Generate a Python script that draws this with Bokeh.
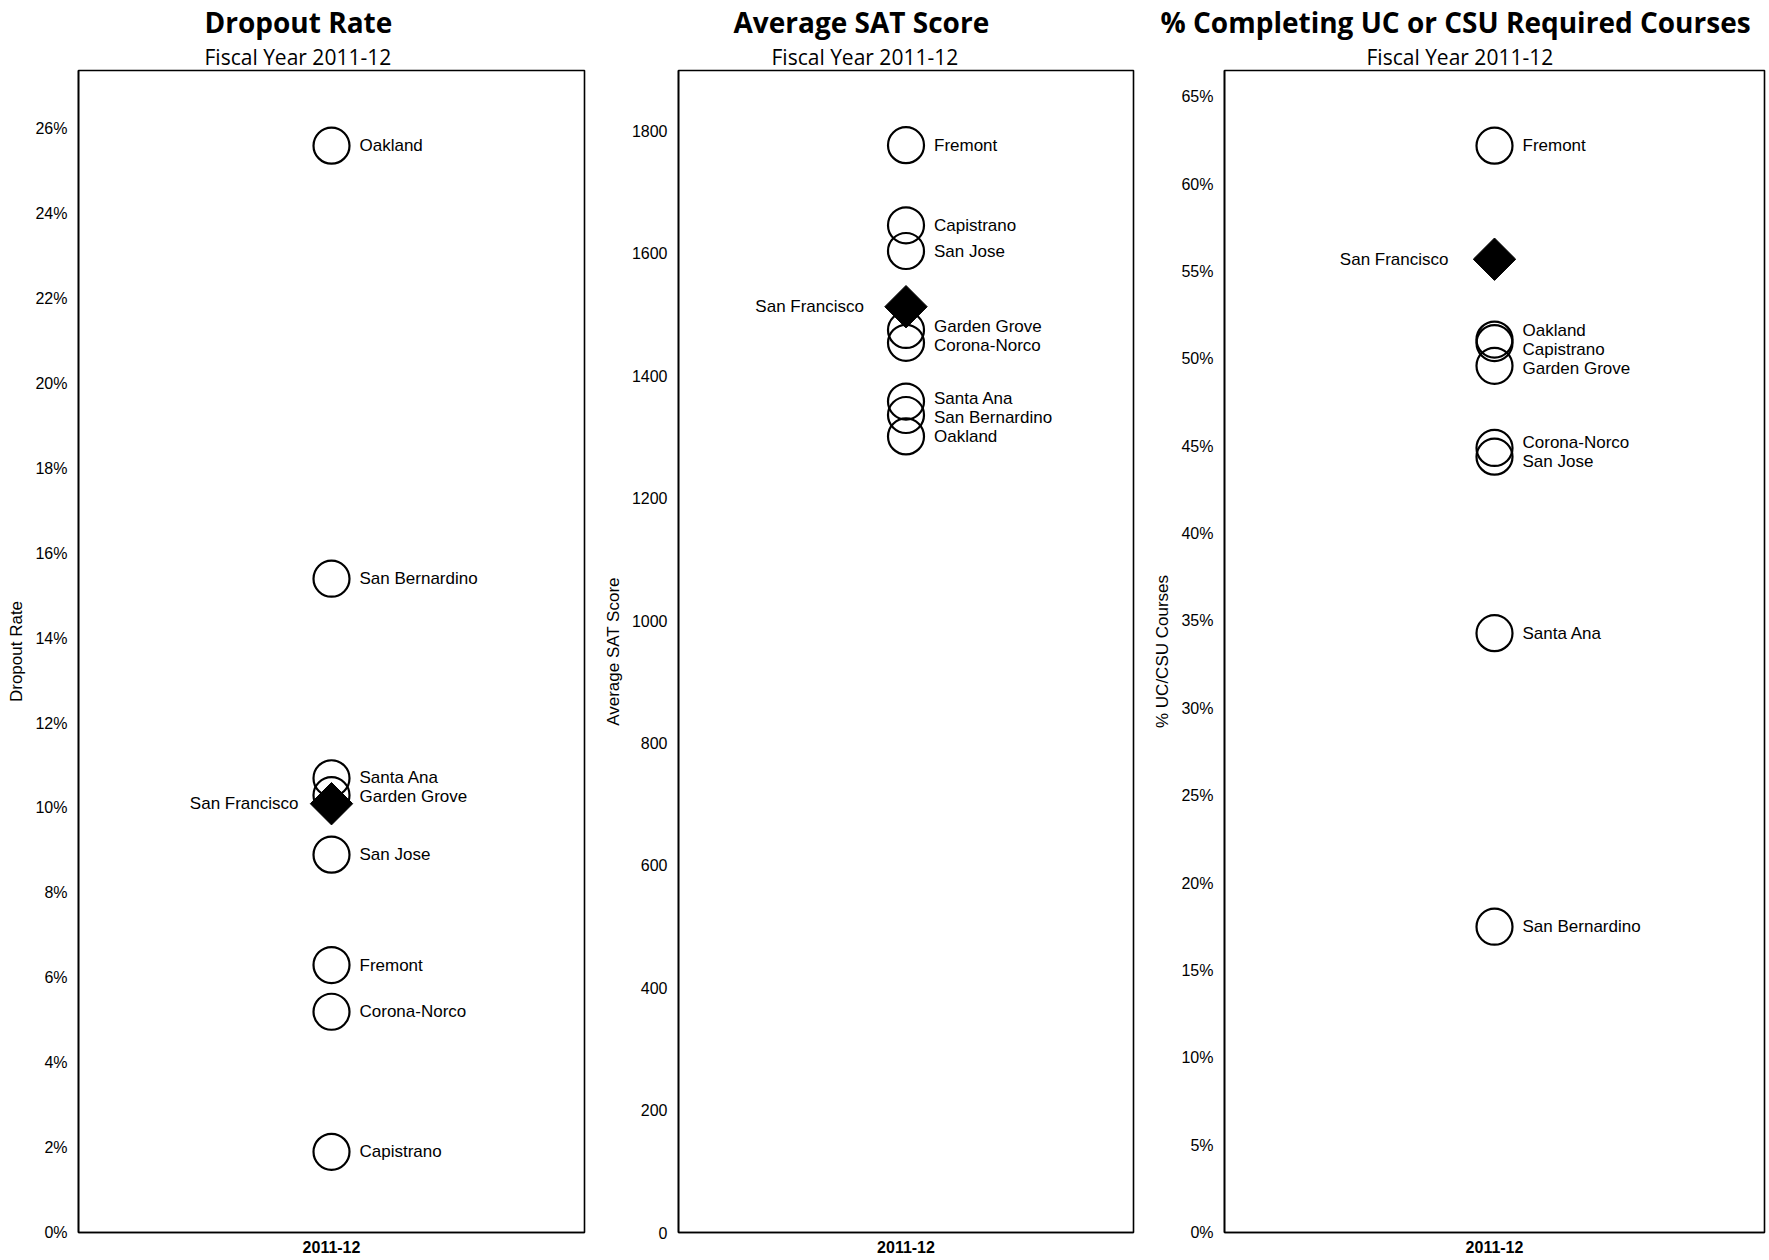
import math
from bokeh.plotting import figure
from bokeh.layouts import row
from bokeh.models import (ColumnDataSource, FactorRange, Range1d, FixedTicker,
                          PrintfTickFormatter, Title)
from bokeh.core.properties import value
from bokeh.embed import file_html
from bokeh.resources import INLINE

# ---------------- data ----------------
year = "2011-12"
districts = ["Oakland", "San Bernardino", "Santa Ana", "Garden Grove",
             "San Jose", "Fremont", "Corona-Norco", "Capistrano"]
reference_name = "San Francisco"

dropout_rate = [25.6, 15.4, 10.7, 10.3, 8.9, 6.3, 5.2, 1.9]     # %
dropout_sf = 10.1

sat_score = [1301, 1336, 1358, 1475, 1604, 1777, 1454, 1646]
sat_sf = 1513

ucsu_rate = [51.1, 17.5, 34.3, 49.6, 44.4, 62.2, 44.9, 50.9]    # %
ucsu_sf = 55.7

dropout_ticks = [0, 2, 4, 6, 8, 10, 12, 14, 16, 18, 20, 22, 24, 26]
sat_ticks = [0, 200, 400, 600, 800, 1000, 1200, 1400, 1600, 1800]
ucsu_ticks = [0, 5, 10, 15, 20, 25, 30, 35, 40, 45, 50, 55, 60, 65]

# ---------------- layout constants ----------------
FH = 1162          # frame height
TOP = 70
BOTTOM = 24
TEXT_FONT = "Liberation Sans"
TITLE_FONT = "Open Sans"


def spread(vals, ppu, gap):
    """Nudge label positions (pixels) apart so they do not overlap."""
    pos = [-(v * ppu) for v in vals]
    order = sorted(range(len(vals)), key=lambda i: pos[i])
    p = [pos[i] for i in order]
    for _ in range(300):
        moved = False
        for k in range(len(p) - 1):
            d = p[k + 1] - p[k]
            if d < gap - 1e-6:
                push = (gap - d) / 2
                p[k] -= push
                p[k + 1] += push
                moved = True
        if not moved:
            break
    off = [0.0] * len(vals)
    for k, i in enumerate(order):
        off[i] = p[k] - pos[i]
    return off


def panel(title, ylabel, vals, sf, ymax, ticks, fmt, border_left, frame_w,
          border_right, title_off, sub_off, sf_off):
    p = figure(title=None, x_range=FactorRange(factors=[year]),
               y_range=Range1d(0, ymax),
               frame_width=frame_w, frame_height=FH,
               min_border_left=border_left, min_border_right=border_right,
               min_border_top=TOP, min_border_bottom=BOTTOM,
               output_backend="svg", toolbar_location=None, tools="")
    p.outline_line_color = "black"
    p.outline_line_width = 1.6
    p.xgrid.visible = False
    p.ygrid.visible = False
    p.background_fill_color = "white"
    p.border_fill_color = "white"

    yax = p.yaxis[0]
    yax.ticker = FixedTicker(ticks=ticks)
    if fmt:
        yax.formatter = PrintfTickFormatter(format=fmt)
    yax.major_tick_out = 0
    yax.major_tick_in = 0
    yax.minor_tick_out = 0
    yax.minor_tick_in = 0
    yax.axis_line_color = "black"
    yax.axis_line_width = 1.6
    yax.major_label_standoff = 11
    yax.major_label_text_font = TEXT_FONT
    yax.major_label_text_font_size = "16px"
    yax.major_label_text_color = "black"
    yax.axis_label = ylabel
    yax.axis_label_text_font = TEXT_FONT
    yax.axis_label_text_font_size = "17px"
    yax.axis_label_text_font_style = "normal"
    yax.axis_label_text_color = "black"
    yax.axis_label_standoff = 6

    xax = p.xaxis[0]
    xax.major_tick_out = 0
    xax.major_tick_in = 0
    xax.axis_line_color = "black"
    xax.axis_line_width = 1.6
    xax.major_label_standoff = 8
    xax.major_label_text_font = TEXT_FONT
    xax.major_label_text_font_size = "16px"
    xax.major_label_text_font_style = "bold"
    xax.major_label_text_color = "black"

    ppu = FH / ymax
    offs = spread(vals, ppu, 19)
    src = ColumnDataSource(dict(x=[year] * len(vals), y=vals,
                                name=districts, yoff=offs))
    p.scatter(x="x", y="y", source=src, marker="circle", size=36,
              fill_color=None, line_color="black", line_width=2.2)
    p.text(x="x", y="y", text="name", source=src, x_offset=28, y_offset="yoff",
           text_align="left", text_baseline="middle",
           text_font=value(TEXT_FONT), text_font_size="17px", text_color="black")

    p.scatter(x=[year], y=[sf], marker="square", angle=math.pi / 4, size=30,
              fill_color="black", line_color="black")
    p.text(x=[year], y=[sf], text=[reference_name], x_offset=sf_off,
           text_align="right", text_baseline="middle",
           text_font=value(TEXT_FONT), text_font_size="17px", text_color="black")

    p.add_layout(Title(text="Fiscal Year " + year, align="left", offset=sub_off,
                       text_font=TITLE_FONT, text_font_size="21px",
                       text_font_style="normal", text_color="black",
                       standoff=0), "above")
    p.add_layout(Title(text=title, align="left", offset=title_off,
                       text_font=TITLE_FONT, text_font_size="28px",
                       text_font_style="bold", text_color="black",
                       standoff=0), "above")
    return p


p1 = panel("Dropout Rate", "Dropout Rate", dropout_rate, dropout_sf, 27.37,
           dropout_ticks, "%d%%", 78, 506, 16, 126, 126, -33)
p2 = panel("Average SAT Score", "Average SAT Score", sat_score, sat_sf, 1899,
           sat_ticks, None, 78, 455, 12, 55, 93, -42)
p3 = panel("% Completing UC or CSU Required Courses", "% UC/CSU Courses",
           ucsu_rate, ucsu_sf, 66.5, ucsu_ticks, "%d%%", 79, 540, 2, -64, 142, -46)

layout = row(p1, p2, p3)
open("out.html", "w").write(file_html(layout, INLINE))
